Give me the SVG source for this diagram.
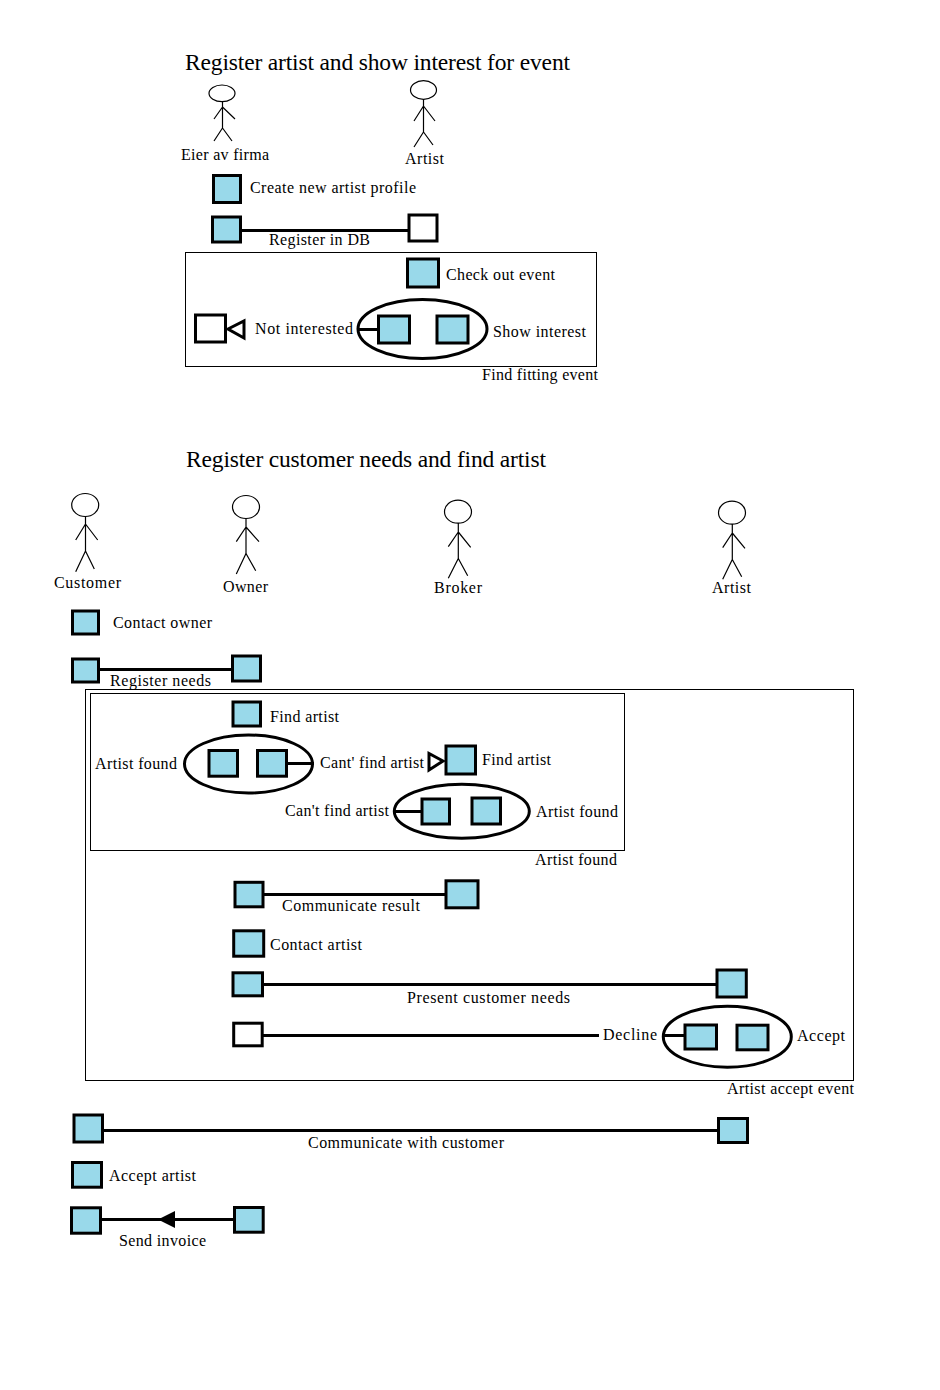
<svg xmlns="http://www.w3.org/2000/svg" width="940" height="1390" viewBox="0 0 940 1390">
<style>
text{font-family:"Liberation Serif","Times New Roman",serif;font-size:16px;fill:#000}
text.h{font-size:23.5px}
.a{fill:#99D9EA;stroke:#000;stroke-width:3}
.w{fill:#fff;stroke:#000;stroke-width:3}
.e{fill:none;stroke:#000;stroke-width:3}
.b{fill:none;stroke:#000;stroke-width:1}
.c{fill:none;stroke:#000;stroke-width:3}
.s{fill:none;stroke:#000;stroke-width:1.2}
</style>
<rect width="940" height="1390" fill="#fff"/>
<g id="titles">
<text class="h" x="185" y="70" textLength="385">Register artist and show interest for event</text>
<text class="h" x="186" y="467" textLength="360">Register customer needs and find artist</text>
</g>
<g id="frames">
<g id="frame-find-fitting-event"><rect class="b" x="185.500" y="252.500" width="411" height="114"/><text x="482" y="380" textLength="116">Find fitting event</text></g>
<g id="frame-artist-accept-event"><rect class="b" x="85.500" y="689.500" width="768" height="391"/><text x="727" y="1094" textLength="127">Artist accept event</text></g>
<g id="frame-artist-found"><rect class="b" x="90.500" y="693.500" width="534" height="157"/><text x="535" y="865" textLength="82">Artist found</text></g>
</g>
<g id="connectors">
<line class="c" x1="241" y1="230.500" x2="408" y2="230.500"/>
<path class="w" d="M228 329L244 321V338Z"/>
<line class="c" x1="357" y1="329.500" x2="378" y2="329.500"/>
<line class="c" x1="99" y1="669.500" x2="232" y2="669.500"/>
<line class="c" x1="288" y1="763.500" x2="314" y2="763.500"/>
<path class="w" d="M443 761L429 753.500V770Z"/>
<line class="c" x1="393" y1="811.500" x2="421" y2="811.500"/>
<line class="c" x1="264" y1="894.500" x2="446" y2="894.500"/>
<line class="c" x1="263" y1="984.500" x2="717" y2="984.500"/>
<line class="c" x1="263" y1="1035.500" x2="599" y2="1035.500"/>
<line class="c" x1="662" y1="1035.500" x2="685" y2="1035.500"/>
<line class="c" x1="103" y1="1130.500" x2="718" y2="1130.500"/>
<line class="c" x1="101" y1="1219.500" x2="234" y2="1219.500"/>
<path d="M158 1219.500L175 1211V1228Z" fill="#000"/>
</g>
<g id="actor-eier"><ellipse class="s" cx="222" cy="93.300" rx="13" ry="8.300"/><path class="s" d="M222.500 102V128M222.500 107L214 119M222.500 107L235 119M222.500 128L214 141M222.500 128L232 141"/><text x="181" y="160" textLength="88">Eier av firma</text></g>
<g id="actor-artist-1"><ellipse class="s" cx="423.500" cy="90" rx="13" ry="9.300"/><path class="s" d="M423.500 99V132M423.500 106L414 121M423.500 106L435 121M423.500 132L414 147M423.500 132L433 145"/><text x="405" y="164" textLength="39">Artist</text></g>
<g id="actor-customer"><ellipse class="s" cx="85.200" cy="505" rx="13.500" ry="11.500"/><path class="s" d="M85.500 517V551M85.500 524L75.700 540M85.500 524L97.700 540M85.500 551L75.700 571.700M85.500 551L94.300 569"/><text x="54" y="588" textLength="67">Customer</text></g>
<g id="actor-owner"><ellipse class="s" cx="246" cy="507" rx="13.500" ry="11.500"/><path class="s" d="M246 518.500V553.500M246 527L236.300 541.700M246 527L259 541.700M246 553.500L236.300 574M246 553.500L255.700 570.700"/><text x="223" y="592" textLength="45">Owner</text></g>
<g id="actor-broker"><ellipse class="s" cx="458" cy="511.700" rx="13.500" ry="11.500"/><path class="s" d="M458.300 523V558.500M458.300 532L448.300 546.700M458.300 532L470.700 547.300M458.300 558.500L448.300 578.300M458.300 558.500L467.700 575.700"/><text x="434" y="593" textLength="48">Broker</text></g>
<g id="actor-artist-2"><ellipse class="s" cx="732" cy="512.700" rx="13.500" ry="11.500"/><path class="s" d="M732.300 524V559.500M732.300 533L722.700 547.700M732.300 533L745 548.300M732.300 559.500L722.700 579.300M732.300 559.500L741.700 576.700"/><text x="712" y="593" textLength="39">Artist</text></g>
<g id="create-profile"><rect class="a" x="213.500" y="175.500" width="27" height="27"/><text x="250" y="193" textLength="166">Create new artist profile</text></g>
<g id="register-db-a"><rect class="a" x="212.500" y="217" width="28" height="25"/></g>
<g id="register-db-b"><rect class="w" x="409" y="215" width="28" height="26"/></g>
<text id="label-register-db" x="269" y="245" textLength="101">Register in DB</text>
<g id="check-event"><rect class="a" x="407.500" y="259" width="31" height="28"/><text x="446" y="280" textLength="109">Check out event</text></g>
<g id="not-interested"><rect class="w" x="195.500" y="315" width="30" height="27"/><text x="255" y="334" textLength="98">Not interested</text></g>
<g id="show-interest"><ellipse class="e" cx="422.500" cy="329" rx="64.500" ry="29.500"/><rect class="a" x="378.500" y="316" width="31" height="27"/><rect class="a" x="437" y="316" width="31" height="27"/><text x="493" y="337" textLength="93">Show interest</text></g>
<g id="contact-owner"><rect class="a" x="72.500" y="611" width="26" height="23"/><text x="113" y="628" textLength="99">Contact owner</text></g>
<g id="register-needs-a"><rect class="a" x="72.500" y="659" width="26" height="23"/></g>
<g id="register-needs-b"><rect class="a" x="232.500" y="656" width="28" height="25"/></g>
<text id="label-register-needs" x="110" y="686" textLength="101">Register needs</text>
<g id="find-artist-1"><rect class="a" x="233" y="702" width="27.500" height="24"/><text x="270" y="722" textLength="69">Find artist</text></g>
<g id="artist-found-1"><ellipse class="e" cx="248.500" cy="764" rx="64" ry="29"/><rect class="a" x="209" y="750.500" width="28.500" height="25.700"/><rect class="a" x="257.500" y="750.500" width="29" height="25.700"/><text x="95" y="769" textLength="82">Artist found</text></g>
<text id="label-cant-find-1" x="320" y="768" textLength="104">Cant' find artist</text>
<g id="find-artist-2"><rect class="a" x="446" y="746" width="29.500" height="28"/><text x="482" y="765" textLength="69">Find artist</text></g>
<g id="artist-found-2"><ellipse class="e" cx="461.800" cy="811.300" rx="67.500" ry="27"/><rect class="a" x="422" y="799" width="27.500" height="25"/><rect class="a" x="472" y="798" width="28.500" height="26"/><text x="536" y="817" textLength="82">Artist found</text></g>
<text id="label-cant-find-2" x="285" y="816" textLength="104">Can't find artist</text>
<g id="communicate-result-a"><rect class="a" x="235" y="882.300" width="28" height="24.500"/></g>
<g id="communicate-result-b"><rect class="a" x="446" y="880.800" width="32" height="27"/></g>
<text id="label-communicate-result" x="282" y="911" textLength="138">Communicate result</text>
<g id="contact-artist"><rect class="a" x="233.700" y="930.800" width="30" height="25.400"/><text x="270" y="950" textLength="92">Contact artist</text></g>
<g id="present-needs-a"><rect class="a" x="233" y="972.800" width="29.500" height="23"/></g>
<g id="present-needs-b"><rect class="a" x="717" y="970" width="29.300" height="27"/></g>
<text id="label-present-needs" x="407" y="1003" textLength="163">Present customer needs</text>
<g id="decline-target"><rect class="w" x="233.700" y="1023.200" width="28.500" height="22.600"/></g>
<text id="label-decline" x="603" y="1040" textLength="54">Decline</text>
<g id="accept"><ellipse class="e" cx="727.300" cy="1036.700" rx="64" ry="30.500"/><rect class="a" x="685" y="1025" width="31.500" height="24"/><rect class="a" x="737" y="1025.200" width="31" height="24.600"/><text x="797" y="1041" textLength="48">Accept</text></g>
<g id="communicate-customer-a"><rect class="a" x="74" y="1115" width="28.500" height="27"/></g>
<g id="communicate-customer-b"><rect class="a" x="718.500" y="1118.500" width="29" height="24"/></g>
<text id="label-communicate-customer" x="308" y="1148" textLength="196">Communicate with customer</text>
<g id="accept-artist"><rect class="a" x="72.500" y="1162.500" width="29" height="24.700"/><text x="109" y="1181" textLength="87">Accept artist</text></g>
<g id="send-invoice-a"><rect class="a" x="71.500" y="1207.800" width="29" height="25.400"/></g>
<g id="send-invoice-b"><rect class="a" x="234.500" y="1207.500" width="28.700" height="24.700"/></g>
<text id="label-send-invoice" x="119" y="1246" textLength="87">Send invoice</text>
</svg>
